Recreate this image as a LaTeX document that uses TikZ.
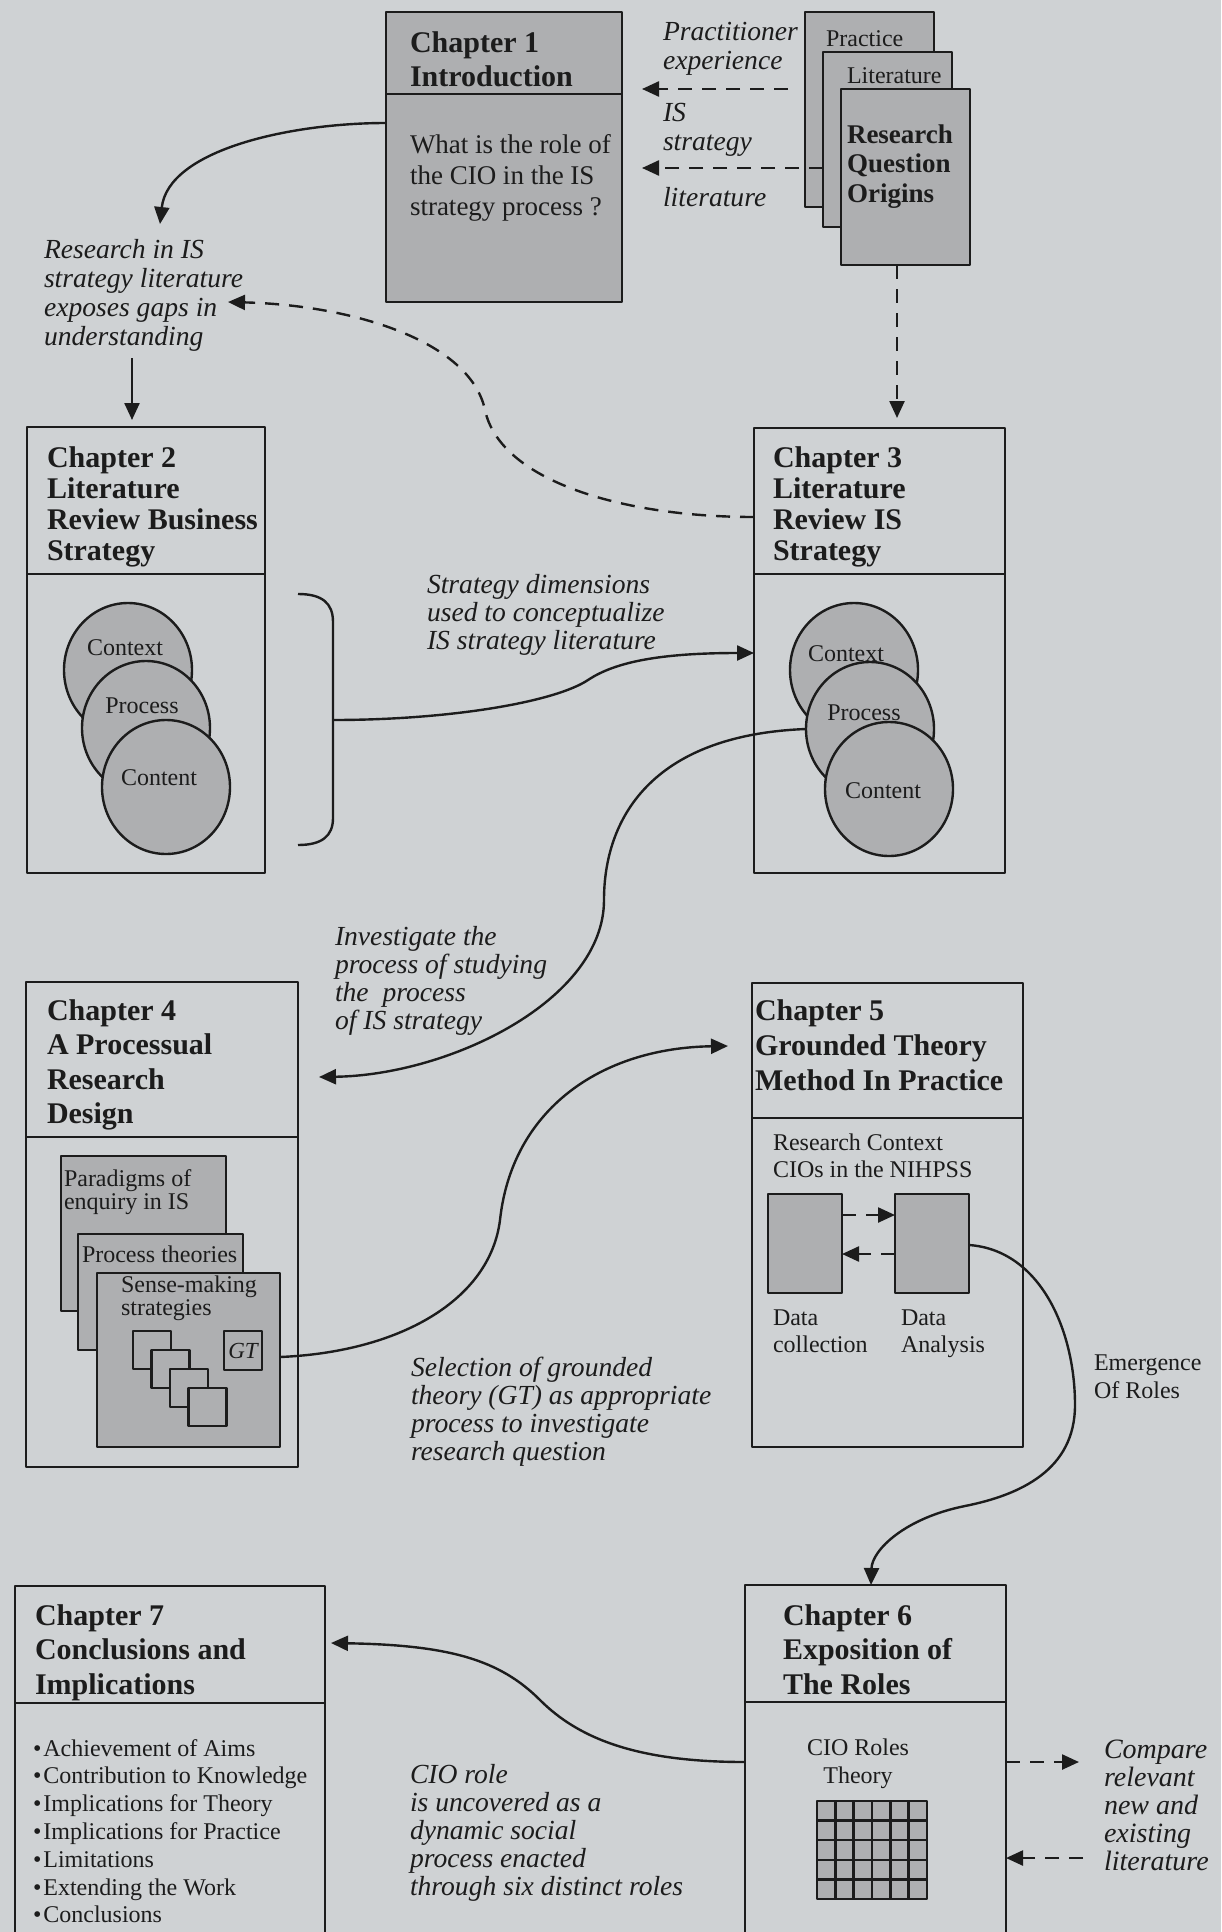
\documentclass[tikz,border=0pt]{standalone}
\usepackage{fontspec}
\setmainfont{Liberation Serif}
\usetikzlibrary{arrows.meta,shapes.geometric,fit}

\definecolor{paper}{RGB}{207,210,212}
\definecolor{shade}{RGB}{174,175,177}
\definecolor{ink}{RGB}{28,28,28}

% stacked lines: the first baseline is the baseline of the node
\newcommand\leftlines[2]{\vtop{\baselineskip=#1\lineskiplimit=-\maxdimen\lineskip=0pt
  \halign{##\hfil\cr#2\crcr}}}
\newcommand\midlines[2]{\vtop{\baselineskip=#1\lineskiplimit=-\maxdimen\lineskip=0pt
  \halign{\hfil##\hfil\cr#2\crcr}}}
\newcommand\itembullet{\textbullet\kern1pt}

\begin{document}
\begin{tikzpicture}[x=0.5pt,y=-0.5pt,line join=round,
  outlined/.style={draw=ink,line width=1.2pt,inner sep=0pt,outer sep=0pt},
  greybox/.style={outlined,fill=shade},
  disc/.style={ellipse,outlined,fill=shade,minimum width=64pt,minimum height=67pt},
  divider/.style={draw=ink,line width=1.2pt},
  link/.style={draw=ink,line width=1.2pt,-{Triangle[length=8.5pt,width=7.5pt]}},
  dlink/.style={link,dash pattern=on 7pt off 5pt},
  txt/.style={inner sep=0pt,outer sep=0pt,anchor=base west,text=ink},
  hdtext/.style={txt,font=\fontsize{15}{17}\selectfont\bfseries},
  ittext/.style={txt,font=\fontsize{13.8}{15}\selectfont\itshape},
  rmtext/.style={txt,font=\fontsize{12}{14}\selectfont},
]
\useasboundingbox (0,0) rectangle (1221,1932);
\clip (0,0) rectangle (1221,1932);
\fill[paper] (0,0) rectangle (1221,1932);

% ---------- Chapter 1 and the origins of the question ----------
\node[greybox,fit={(386,12) (622,302)}] (ch1) {};
\draw[divider] (ch1.west |- 0,94) -- (ch1.east |- 0,94);
\node[hdtext] (ch1t) at (410,53) {\leftlines{17pt}{Chapter 1\cr Introduction}};
\node[txt,font=\fontsize{13.5}{15.5}\selectfont] (ch1q) at (410,154)
  {\leftlines{15.5pt}{What is the role of\cr the CIO in the IS\cr strategy process ?}};

\node[greybox,fit={(805,12) (934,207)}] (prac) {};
\node[rmtext] (pract) at (826,47) {Practice};
\node[greybox,fit={(823,52) (952,227)}] (lit) {};
\node[rmtext] (litt) at (847,84) {Literature};
\node[greybox,fit={(841,89) (970,265)}] (rqo) {};
\node[txt,font=\fontsize{13.5}{15}\selectfont\bfseries] (rqot) at (847,143)
  {\leftlines{14.75pt}{Research\cr Question\cr Origins}};

\node[ittext] (pexp) at (663,41) {\leftlines{14.5pt}{Practitioner\cr experience}};
\node[ittext] (isstr) at (663,122) {\leftlines{14pt}{IS\cr strategy}};
\node[ittext] (islit) at (663,206) {literature};

\coordinate (pracfeed) at (788,89);
\coordinate (ch1in1) at (642,89);
\coordinate (ch1in2) at (642,168);
\draw[dlink] (pracfeed) -- (ch1in1);
\draw[dlink] (lit.west |- 0,168) -- (ch1in2);

% ---------- Chapter 2 ----------
\node[outlined,fit={(27,427) (265,873)}] (ch2) {};
\draw[divider] (ch2.west |- 0,574) -- (ch2.east |- 0,574);
\node[hdtext] (ch2t) at (47,467) {\leftlines{15.5pt}{Chapter 2\cr Literature\cr Review Business\cr Strategy}};
\node[disc] (c2a) at (128,670) {};
\node[disc] (c2b) at (146,728) {};
\node[disc] (c2c) at (166,787) {};
\node[rmtext,anchor=base] (c2at) at (125,655) {Context};
\node[rmtext,anchor=base] (c2bt) at (142,713) {Process};
\node[rmtext,anchor=base] (c2ct) at (159,785) {Content};

% bracket gathering the three dimensions
\draw[divider] (298,594) .. controls (322,594) and (333,603) .. (333,622)
  -- (333,818) .. controls (333,836) and (322,845) .. (298,845);
\coordinate (brace) at (333,720);

% ---------- Chapter 3 ----------
\node[outlined,fit={(754,428) (1005,873)}] (ch3) {};
\draw[divider] (ch3.west |- 0,574) -- (ch3.east |- 0,574);
\node[hdtext] (ch3t) at (773,467) {\leftlines{15.5pt}{Chapter 3\cr Literature\cr Review IS\cr Strategy}};
\node[disc] (c3a) at (854,670) {};
\node[disc] (c3b) at (870,729) {};
\node[disc] (c3c) at (889,789) {};
\node[rmtext,anchor=base] (c3at) at (846,661) {Context};
\node[rmtext,anchor=base] (c3bt) at (864,720) {Process};
\node[rmtext,anchor=base] (c3ct) at (883,798) {Content};

% ---------- Chapter 4 ----------
\node[outlined,fit={(26,982) (298,1467)}] (ch4) {};
\draw[divider] (ch4.west |- 0,1137) -- (ch4.east |- 0,1137);
\node[hdtext] (ch4t) at (47,1020) {\leftlines{17.25pt}{Chapter 4\cr A Processual\cr Research\cr Design}};
\node[greybox,fit={(61,1156) (226,1311)}] (para) {};
\node[rmtext] (parat) at (64,1186) {\leftlines{11.5pt}{Paradigms of\cr enquiry in IS}};
\node[greybox,fit={(78,1234) (243,1350)}] (proc) {};
\node[rmtext] (proct) at (82,1262) {Process theories};
\node[greybox,fit={(97,1273) (280,1447)}] (sense) {};
\node[rmtext] (senset) at (121,1292) {\leftlines{11.5pt}{Sense-making\cr strategies}};
\foreach \k in {0,1,2,3}
  \node[greybox,fit={({133+18.5*\k},{1331+19*\k}) ({171+18.5*\k},{1369+19*\k})}] (sq\k) {};
\node[greybox,fit={(224,1331) (262,1370)}] (gt) {};
\node[txt,anchor=center,font=\fontsize{11.5}{13}\selectfont\itshape] (gtt) at (gt.center) {GT};

% ---------- Chapter 5 ----------
\node[outlined,fit={(752,983) (1023,1447)}] (ch5) {};
\draw[divider] (ch5.west |- 0,1118) -- (ch5.east |- 0,1118);
\node[hdtext] (ch5t) at (755,1020) {\leftlines{17.5pt}{Chapter 5\cr Grounded Theory\cr Method In Practice}};
\node[rmtext] (ctx) at (773,1150) {\leftlines{13.5pt}{Research Context\cr CIOs in the NIHPSS}};
\node[greybox,fit={(768,1194) (842,1293)}] (dcol) {};
\node[greybox,fit={(895,1194) (969,1293)}] (dana) {};
\draw[dlink] (dcol.east |- 0,1215) -- (dana.west |- 0,1215);
\draw[dlink] (dana.west |- 0,1254) -- (dcol.east |- 0,1254);
\node[rmtext] (dcolt) at (773,1325) {\leftlines{13.5pt}{Data\cr collection}};
\node[rmtext] (danat) at (901,1325) {\leftlines{13.5pt}{Data\cr Analysis}};
\node[rmtext] (emerge) at (1094,1370) {\leftlines{14pt}{Emergence\cr Of Roles}};

% ---------- Chapter 6 ----------
\node[outlined,fit={(745,1585) (1006,1945)}] (ch6) {};
\draw[divider] (ch6.west |- 0,1702) -- (ch6.east |- 0,1702);
\node[hdtext] (ch6t) at (783,1625) {\leftlines{17.25pt}{Chapter 6\cr Exposition of\cr The Roles}};
\node[rmtext,anchor=base] (rolest) at (858,1755) {\midlines{14pt}{CIO Roles\cr Theory}};
\node[greybox,fit={(817,1801) (927,1899)}] (grid) {};
\foreach \i in {1,...,5}
  \draw[divider] ({817+\i*110/6},1801) -- ({817+\i*110/6},1899);
\foreach \j in {1,...,4}
  \draw[divider] (817,{1801+\j*98/5}) -- (927,{1801+\j*98/5});
\coordinate (cmpout) at (1079,1762);
\coordinate (cmpin) at (1083,1858);
\draw[dlink] (ch6.east |- 0,1762) -- (cmpout);
\draw[dlink] (cmpin) -- (ch6.east |- 0,1858);
\node[txt,font=\fontsize{14}{15}\selectfont\itshape] (cmp) at (1104,1758)
  {\leftlines{14pt}{Compare\cr relevant\cr new and\cr existing\cr literature}};

% ---------- Chapter 7 ----------
\node[outlined,fit={(15,1586) (325,1945)}] (ch7) {};
\draw[divider] (ch7.west |- 0,1703) -- (ch7.east |- 0,1703);
\node[hdtext] (ch7t) at (35,1625) {\leftlines{17.25pt}{Chapter 7\cr Conclusions and\cr Implications}};
\node[txt,font=\fontsize{12}{14}\selectfont] (ch7list) at (33,1756)
  {\leftlines{13.9pt}{\itembullet Achievement of Aims\cr
   \itembullet Contribution to Knowledge\cr
   \itembullet Implications for Theory\cr
   \itembullet Implications for Practice\cr
   \itembullet Limitations\cr
   \itembullet Extending the Work\cr
   \itembullet Conclusions}};

% ---------- connector labels ----------
\node[ittext] (gaps) at (44,258) {\leftlines{14.5pt}{Research in IS\cr strategy literature\cr exposes gaps in\cr understanding}};
\node[ittext] (dims) at (427,593) {\leftlines{14pt}{Strategy dimensions\cr used to conceptualize\cr IS strategy literature}};
\node[ittext] (invest) at (335,945) {\leftlines{14pt}{Investigate the\cr process of studying\cr the\ \ process\cr of IS strategy}};
\node[ittext] (select) at (411,1376) {\leftlines{14pt}{Selection of grounded\cr theory (GT) as appropriate\cr process to investigate\cr research question}};
\node[ittext] (uncover) at (410,1783) {\leftlines{14pt}{CIO role\cr is uncovered as a\cr dynamic social\cr process enacted\cr through six distinct roles}};

% ---------- connectors ----------
\coordinate (gapsin) at (160,224);
\draw[link] (ch1.west |- 0,123) .. controls (290,123) and (168,150) .. (gapsin);
\coordinate (gapsout) at (132,358);
\coordinate (ch2in) at (132,420);
\draw[link] (gapsout) -- (ch2in);
\coordinate (rqofoot) at (rqo.south -| 897,0);
\coordinate (ch3in) at (897,418);
\draw[dlink] (rqofoot) -- (ch3in);
\coordinate (gapsback) at (228,302);
\draw[dlink] (ch3.west |- 0,517) .. controls (620,517) and (500,480) .. (485,410)
  .. controls (470,340) and (350,305) .. (gapsback);
\draw[link] (brace) .. controls (450,720) and (555,702) .. (588,680)
  .. controls (615,662) and (660,653) .. (ch3.west |- 0,653);
\coordinate (ch4in) at (319,1077);
\draw[link] (c3b.west) .. controls (650,735) and (604,820) .. (604,900)
  .. controls (604,1000) and (450,1075) .. (ch4in);
\coordinate (ch5in) at (728,1046);
\draw[link] (sense.east |- 0,1357) .. controls (400,1352) and (490,1300) .. (500,1220)
  .. controls (512,1110) and (600,1048) .. (ch5in);
\draw[link] (dana.east |- 0,1245) .. controls (1040,1250) and (1075,1330) .. (1075,1405)
  .. controls (1075,1470) and (1020,1495) .. (965,1506)
  .. controls (905,1518) and (872,1550) .. (ch6.north -| 871,0);
\coordinate (ch7in) at (331,1643);
\draw[link] (ch6.west |- 0,1762) .. controls (640,1762) and (580,1740) .. (540,1700)
  .. controls (500,1660) and (450,1645) .. (ch7in);
\end{tikzpicture}
\end{document}
